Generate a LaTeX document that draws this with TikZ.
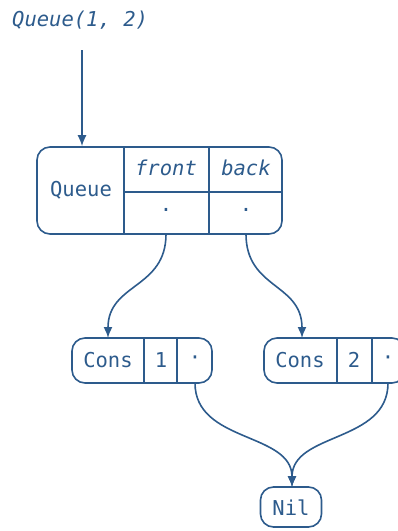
\documentclass[tikz,border=0pt]{standalone}
\usepackage{fontspec}
\setmonofont{DejaVu Sans Mono}
\usetikzlibrary{arrows.meta,calc}
\definecolor{ink}{HTML}{2D5B8C}
\tikzset{
  txt/.style={inner sep=0pt, text=ink, font=\ttfamily\fontsize{20.5}{24}\selectfont},
  itxt/.style={txt, font=\ttfamily\itshape\fontsize{20.5}{24}\selectfont},
  boxstyle/.style={draw=ink, line width=1.6pt, rounded corners=13pt, inner sep=0pt},
  div/.style={draw=ink, line width=1.6pt},
  arr/.style={draw=ink, line width=1.6pt, -{Latex[length=11pt,width=9pt]}},
  wire/.style={draw=ink, line width=1.6pt}
}
\begin{document}
\begin{tikzpicture}[x=1pt,y=-1pt]
\useasboundingbox (0,0) rectangle (398,531);
% title
\node[itxt, anchor=west] (title) at (12,20) {Queue(1, 2)};
\coordinate (tstart) at (82,50);
% Queue box
\node[boxstyle, minimum width=245pt, minimum height=87pt] (qbox) at (159.5,190.5) {};
\draw[div] (124,147) -- (124,234);
\draw[div] (209,147) -- (209,234);
\draw[div] (124,192) -- (282,192);
\node[txt] (qlabel) at (81,190) {Queue};
\node[itxt] (front) at (166,168) {front};
\node[itxt] (back) at (246,168) {back};
\node[txt] (fdot) at (166,210) {.};
\node[txt] (bdot) at (246,210) {.};
\coordinate (fout) at (166,234);
\coordinate (bout) at (246,234);
\draw[arr] (tstart) -- (qbox.north -| tstart);
% Cons 1
\node[boxstyle, minimum width=140pt, minimum height=45pt] (c1) at (142,360.5) {};
\draw[div] (144,338) -- (144,383);
\draw[div] (177,338) -- (177,383);
\node[txt] (c1a) at (108,360) {Cons};
\node[txt] (c1b) at (161,360) {1};
\node[txt] (c1c) at (195,360) {·};
\coordinate (c1in) at (108,338);
\coordinate (c1out) at (195,383);
% Cons 2
\node[boxstyle, minimum width=141pt, minimum height=45pt] (c2) at (334.5,360.5) {};
\draw[div] (337,338) -- (337,383);
\draw[div] (372,338) -- (372,383);
\node[txt] (c2a) at (300,360) {Cons};
\node[txt] (c2b) at (354,360) {2};
\node[txt] (c2c) at (388,360) {·};
\coordinate (c2in) at (302,338);
\coordinate (c2out) at (388,383);
% Nil
\node[boxstyle, minimum width=61pt, minimum height=40pt] (nil) at (291,507) {};
\node[txt] (nillabel) at (291,508) {Nil};
\coordinate (nilin) at (292,487);
% connectors
\draw[arr] (fout) .. controls +(0,55) and +(0,-55) .. (c1in);
\draw[arr] (bout) .. controls +(0,55) and +(0,-55) .. (c2in);
\draw[arr] (c1out) .. controls +(0,60) and +(0,-55) .. (nilin);
\draw[arr] (c2out) .. controls +(0,60) and +(0,-55) .. (nilin);
\end{tikzpicture}
\end{document}
